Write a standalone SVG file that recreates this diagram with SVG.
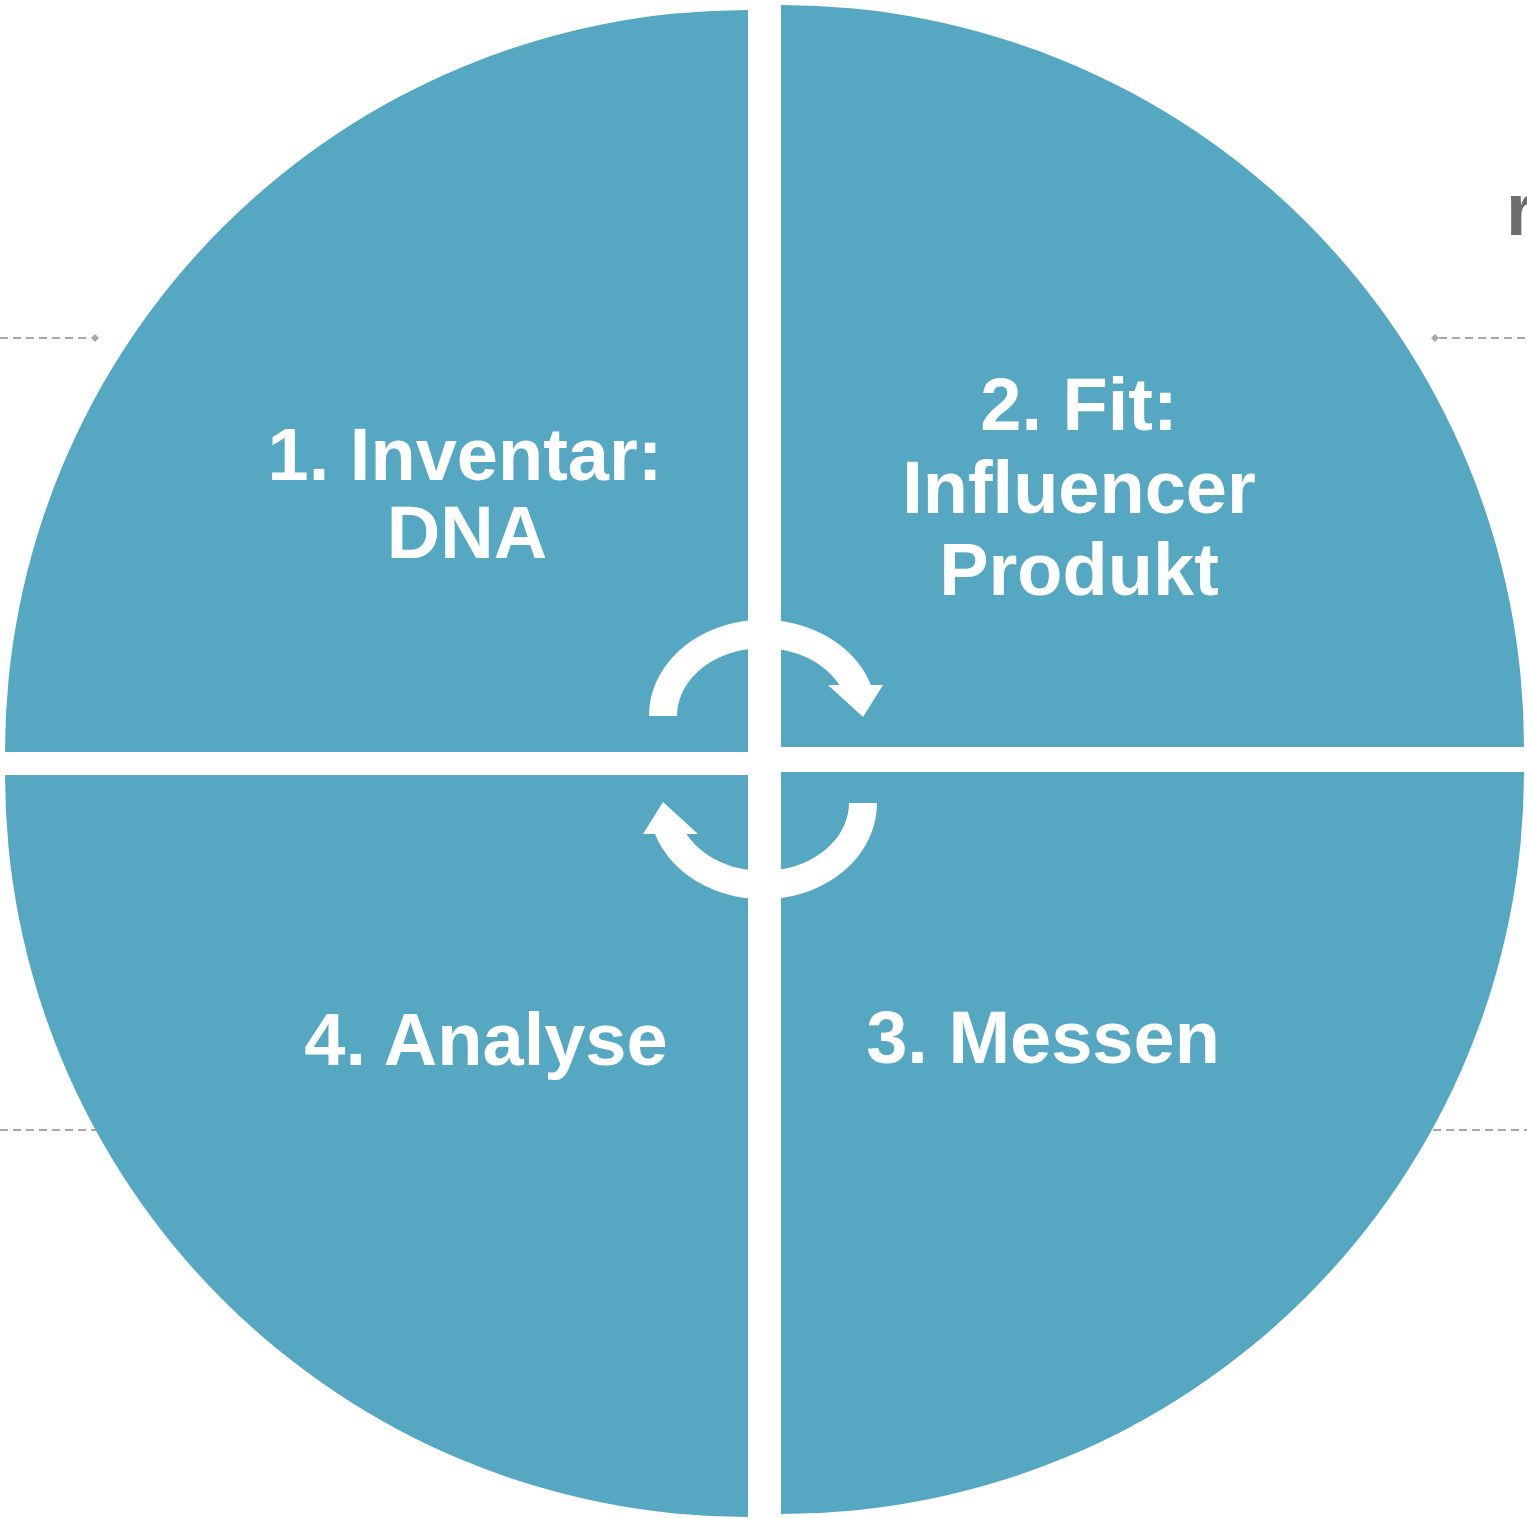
<svg xmlns="http://www.w3.org/2000/svg" width="1527" height="1519" viewBox="0 0 1527 1519">
  <style>
    .quad { fill: #55A7C2; }
    .label { fill: #FFFFFF; font-family: "Liberation Sans", Arial, Helvetica, sans-serif; font-weight: bold; font-size: 74px; text-anchor: middle; }
    .guide { stroke: #A8A8A8; stroke-width: 2; stroke-dasharray: 8 5; fill: none; }
    .tick { fill: #A8A8A8; }
    .cycle { fill: #FFFFFF; }
  </style>
  <rect width="1527" height="1519" fill="#FFFFFF"/>

  <!-- background guide lines (partly hidden behind the circle) -->
  <g id="guides">
    <line class="guide" x1="0" y1="338" x2="91" y2="338"/>
    <path class="tick" d="M95,334 L99,338 L95,342 L91,338 Z"/>
    <line class="guide" x1="1439" y1="338" x2="1527" y2="338"/>
    <path class="tick" d="M1435,334 L1439,338 L1435,342 L1431,338 Z"/>
    <line class="guide" x1="0" y1="1130" x2="110" y2="1130"/>
    <line class="guide" x1="1420" y1="1130" x2="1527" y2="1130"/>
    <text x="1506" y="235" font-family="Liberation Sans, Arial, sans-serif" font-weight="bold" font-size="74" fill="#6E6E6E">r</text>
  </g>

  <!-- quadrant 1 -->
  <g id="node-inventar">
    <path class="quad" d="M748,752 L5,752 A743,742 0 0 1 748,10 Z"/>
    <text class="label" x="465" y="480">1. Inventar:</text>
    <text class="label" x="467" y="558">DNA</text>
  </g>

  <!-- quadrant 2 -->
  <g id="node-fit">
    <path class="quad" d="M781,747 L781,5 A743,742 0 0 1 1524,747 Z"/>
    <text class="label" x="1079" y="430">2. Fit:</text>
    <text class="label" x="1079" y="513">Influencer</text>
    <text class="label" x="1079" y="595">Produkt</text>
  </g>

  <!-- quadrant 3 -->
  <g id="node-messen">
    <path class="quad" d="M781,772 L1524,772 A743,742 0 0 1 781,1514 Z"/>
    <text class="label" x="1043" y="1063">3. Messen</text>
  </g>

  <!-- quadrant 4 -->
  <g id="node-analyse">
    <path class="quad" d="M748,775 L748,1517 A743,742 0 0 1 5,775 Z"/>
    <text class="label" x="486" y="1065">4. Analyse</text>
  </g>

  <!-- cycle arrows in the centre -->
  <g id="connectors">
    <path id="cycle-top" class="cycle" d="M649,716 A114,96 0 0 1 871,685 L883,685 L863,717 L828,685 L839.5,685 A86,68 0 0 0 677,716 Z"/>
    <path id="cycle-bottom" class="cycle" transform="rotate(180 763 759.5)" d="M649,716 A114,96 0 0 1 871,685 L883,685 L863,717 L828,685 L839.5,685 A86,68 0 0 0 677,716 Z"/>
  </g>
</svg>
